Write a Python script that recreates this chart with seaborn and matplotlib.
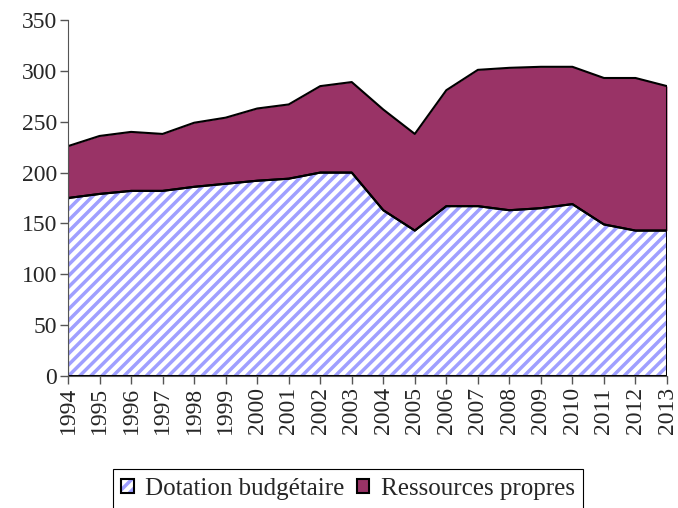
import matplotlib
matplotlib.use("Agg")
import matplotlib.pyplot as plt
import numpy as np
import seaborn as sns
from matplotlib.legend_handler import HandlerTuple
from matplotlib.patches import Patch

years = list(range(1994, 2014))
dotation = [175, 179, 182, 182, 186, 189, 192, 194, 200, 200,
            163, 143, 167, 167, 163, 165, 169, 149, 143, 143]
total = [226, 236, 240, 238, 249, 254, 263, 267, 285, 289,
         262, 238, 281, 301, 303, 304, 304, 293, 293, 285]
ressources = [t - d for t, d in zip(total, dotation)]
labels = ["Dotation budgétaire", "Ressources propres"]

sns.set_style("ticks")
plt.rcParams["font.family"] = ["Liberation Serif", "DejaVu Serif"]
plt.rcParams["hatch.linewidth"] = 2.5

fig = plt.figure(figsize=(6.78, 5.08), dpi=100)
ax = fig.add_axes([0.1003, 0.2598, 0.8835, 0.7008])

# fill layer: hatch colour comes from the edge colour, so no outline here
polys = ax.stackplot(years, dotation, ressources, labels=labels,
                     colors=["white", "#993366"], linewidth=0)
polys[0].set_edgecolor("#9f9fff")
polys[0].set_hatch("///")
polys[1].set_edgecolor("#993366")

# outline layer
ax.stackplot(years, dotation, ressources, colors=["none", "none"],
             edgecolor="black", linewidth=1.5)

ax.set_xlim(1994, 2013)
ax.set_ylim(0, 350)
ax.set_xticks(years)
ax.set_xticklabels([str(y) for y in years], rotation=90)
ax.set_yticks(range(0, 351, 50))
ax.tick_params(axis="both", labelsize=17, color="#555555", length=6, width=1, pad=2)
for side in ["top", "right"]:
    ax.spines[side].set_visible(False)
for side in ["left", "bottom"]:
    ax.spines[side].set_color("#555555")

handles = [
    (Patch(facecolor="white", edgecolor="#9f9fff", hatch="///", linewidth=0),
     Patch(facecolor="none", edgecolor="black", linewidth=1.5)),
    Patch(facecolor="#993366", edgecolor="black", linewidth=1.5),
]
leg = fig.legend(handles, labels, loc="upper center",
                 bbox_to_anchor=(348 / 678, 1 - 469 / 508), ncol=2,
                 handler_map={tuple: HandlerTuple(ndivide=1, pad=0)},
                 fontsize=18, frameon=True, fancybox=False, edgecolor="black", framealpha=1,
                 handlelength=0.5, handleheight=0.5, handletextpad=0.45, columnspacing=0.5,
                 borderpad=0.35, borderaxespad=0)
leg.get_frame().set_linewidth(0.8)

fig.savefig("out.png", dpi=100)
